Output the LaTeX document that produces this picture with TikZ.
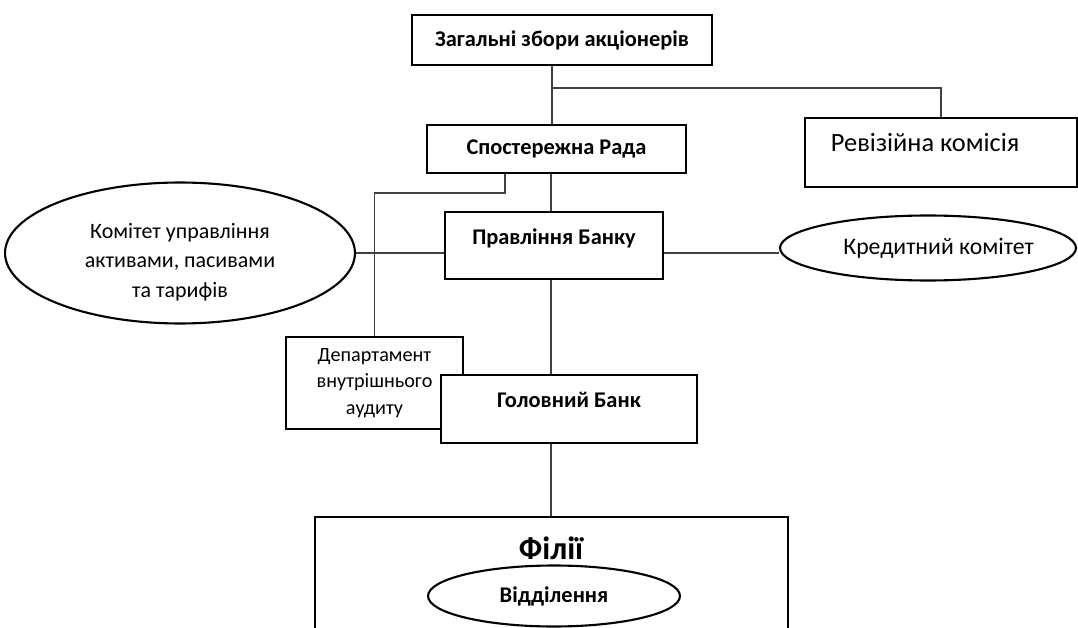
\documentclass[tikz,border=0pt]{standalone}
\usepackage{fontspec}
\setmainfont{Carlito}
\usetikzlibrary{positioning, shapes.geometric, calc}

\begin{document}
\begin{tikzpicture}[
    x=0.02cm, y=-0.02cm,
    every node/.style={font=\fontsize{12.5}{17}\selectfont},
    box/.style={rectangle, draw=black, line width=1.2pt, fill=white, align=center, inner sep=0pt},
    oval/.style={ellipse, draw=black, line width=1.2pt, fill=white, align=center, inner sep=0pt},
    bold/.style={font=\fontsize{12.75}{15}\selectfont\bfseries},
    raised/.style={text height=9pt, text depth=10.5pt},
    link/.style={line width=0.7pt, draw=black!75}
]
\useasboundingbox (0,0) rectangle (1078,628);
\clip (0,0) rectangle (1078,628);

\node[box, bold, minimum width=6cm, minimum height=1cm] (gsa) at (562,40) {Загальні збори акціонерів};
\node[box, bold, minimum width=5.18cm, minimum height=0.96cm] (rada) at (556.5,149) {Спостережна Рада};
\node[box, raised, font=\fontsize{15}{18}\selectfont, minimum width=5.44cm, minimum height=1.38cm] (rev) at (941,152.5) {\hspace*{-18pt}Ревізійна комісія};
\node[box, bold, raised, minimum width=4.36cm, minimum height=1.34cm] (prav) at (554,245.5) {Правління Банку};
\node[oval, minimum width=7cm, minimum height=2.82cm] (kom) at (180,253) {\rule{0pt}{19pt}Комітет управління\\активами, пасивами\\та тарифів};
\node[oval, font=\fontsize{13.5}{16}\selectfont, minimum width=5.92cm, minimum height=1.3cm] (kred) at (928,248) {Кредитний комітет\hspace*{-12pt}};
\node[box, font=\fontsize{11.5}{15}\selectfont, minimum width=3.54cm, minimum height=1.84cm] (dep) at (374.5,383) {Департамент\\внутрішнього\\аудиту};
\node[box, bold, raised, minimum width=5.12cm, minimum height=1.36cm] (golov) at (569,409) {Головний Банк};

% Filii
\node[box, minimum width=9.46cm, minimum height=3.66cm] (filii) at (551.5,608.5) {};
\node[font=\fontsize{18.4}{21}\selectfont\bfseries] (filiilbl) at (551,548) {Філії};
\node[oval, bold, minimum width=5.04cm, minimum height=1.22cm] (vid) at (554,596) {Відділення};

\coordinate (j1) at (552,88);
\coordinate (spine) at (551,0);
\coordinate (ra) at (505,193);
\coordinate (mid) at (0,253);

\draw[link] (j1 |- gsa.south) -- (j1 |- rada.north);
\draw[link] (j1) -| (rev.north);
\draw[link] (spine |- rada.south) -- (spine |- prav.north);
\draw[link] (ra |- rada.south) -- (ra) -| (dep.north);
\draw[link] (kom.east) -- (mid -| prav.west);
\draw[link] (mid -| prav.east) -- (mid -| kred.west);
\draw[link] (spine |- prav.south) -- (spine |- golov.north);
\draw[link] (spine |- golov.south) -- (spine |- filii.north);

\end{tikzpicture}
\end{document}
